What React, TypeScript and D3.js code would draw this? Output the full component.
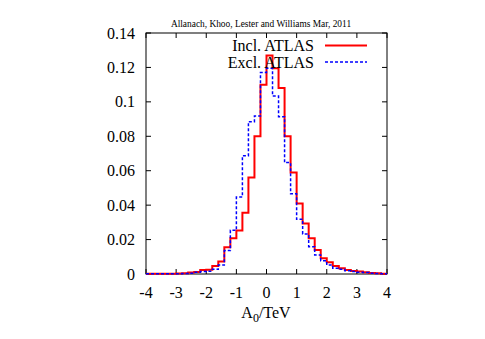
import React from "react";
import * as d3 from "d3";

const binEdges: number[] = [
  -4.0, -3.8, -3.6, -3.4, -3.2, -3.0, -2.8, -2.6, -2.4, -2.2,
  -2.0, -1.8, -1.6, -1.4, -1.2, -1.0, -0.8, -0.6, -0.4, -0.2,
  0.0, 0.2, 0.4, 0.6, 0.8, 1.0, 1.2, 1.4, 1.6, 1.8,
  2.0, 2.2, 2.4, 2.6, 2.8, 3.0, 3.2, 3.4, 3.6, 3.8,
];

const inclAtlas: number[] = [
  0.0001, 0.0001, 0.0001, 0.0002, 0.0002, 0.0003, 0.0004, 0.0008, 0.0012, 0.0023,
  0.0025, 0.0047, 0.0072, 0.0155, 0.0207, 0.0252, 0.0356, 0.056, 0.080, 0.110,
  0.127, 0.1195, 0.108, 0.080, 0.059, 0.041, 0.0294, 0.0207, 0.0139, 0.0091,
  0.0068, 0.0046, 0.0033, 0.0023, 0.0017, 0.0014, 0.001, 0.0006, 0.0004, 0.0002,
];

const exclAtlas: number[] = [
  0.0001, 0.0001, 0.0001, 0.0001, 0.0002, 0.0002, 0.0003, 0.0005, 0.001, 0.0014,
  0.0016, 0.0027, 0.0052, 0.0136, 0.0254, 0.0447, 0.0687, 0.0885, 0.0918, 0.117,
  0.1195, 0.1034, 0.0914, 0.0647, 0.0466, 0.0318, 0.0232, 0.0159, 0.011, 0.0077,
  0.0052, 0.0034, 0.0027, 0.0019, 0.0014, 0.001, 0.0008, 0.0005, 0.0003, 0.0002,
];

const xTicks: number[] = [-4, -3, -2, -1, 0, 1, 2, 3, 4];
const yTicks: number[] = [0, 0.02, 0.04, 0.06, 0.08, 0.1, 0.12, 0.14];
const titleText = "Allanach, Khoo, Lester and Williams Mar, 2011";
const seriesNames = ["Incl. ATLAS", "Excl. ATLAS"];
const binWidth = 0.2;

const W = 485;
const H = 339;
const L = 146, R = 387, T = 33, B = 274;
const FONT = "'Liberation Serif', 'Times New Roman', serif";

export default function App() {
  const x = d3.scaleLinear().domain([-4, 4]).range([L, R]);
  const y = d3.scaleLinear().domain([0, 0.14]).range([B, T]);

  const stepPath = (vals: number[]) => {
    const pts: [number, number][] = binEdges.map((e, i) => [e, vals[i]]);
    pts.push([binEdges[binEdges.length - 1] + binWidth, vals[vals.length - 1]]);
    return d3
      .line<[number, number]>()
      .x((d) => x(d[0]))
      .y((d) => y(d[1]))
      .curve(d3.curveStepAfter)(pts) as string;
  };

  const fmt = (v: number) => (v === 0 ? "0" : String(+v.toFixed(2)));
  const tick = 5;

  return (
    <svg
      width={W}
      height={H}
      style={{ position: "absolute", left: 0, top: 0, background: "#fff" }}
      fontFamily={FONT}
    >
      <rect x={0} y={0} width={W} height={H} fill="#fff" />
      <text x={261} y={26.5} fontSize={9.4} textAnchor="middle" fill="#000">
        {titleText}
      </text>

      {/* ticks */}
      {xTicks.map((t) => (
        <g key={"xt" + t}>
          <line x1={x(t)} x2={x(t)} y1={B} y2={B - tick} stroke="#000" strokeWidth={1} />
          <line x1={x(t)} x2={x(t)} y1={T} y2={T + tick} stroke="#000" strokeWidth={1} />
          <text x={x(t)} y={298} fontSize={16} textAnchor="middle" fill="#000">
            {t}
          </text>
        </g>
      ))}
      {yTicks.map((t) => (
        <g key={"yt" + t}>
          <line x1={L} x2={L + tick} y1={y(t)} y2={y(t)} stroke="#000" strokeWidth={1} />
          <line x1={R} x2={R - tick} y1={y(t)} y2={y(t)} stroke="#000" strokeWidth={1} />
          <text x={135} y={y(t)} dy="0.35em" fontSize={16} textAnchor="end" fill="#000">
            {fmt(t)}
          </text>
        </g>
      ))}

      <rect x={L} y={T} width={R - L} height={B - T} fill="none" stroke="#000" strokeWidth={1} />

      {/* series */}
      <path d={stepPath(inclAtlas)} fill="none" stroke="#ff0000" strokeWidth={2} />
      <path
        d={stepPath(exclAtlas)}
        fill="none"
        stroke="#0000ff"
        strokeWidth={1.5}
        strokeDasharray="3,2"
      />

      {/* legend */}
      <text x={314} y={45.5} dy="0.35em" fontSize={16} textAnchor="end" fill="#000">
        {seriesNames[0]}
      </text>
      <line x1={325} x2={367} y1={45.5} y2={45.5} stroke="#ff0000" strokeWidth={2} />
      <text x={314} y={62} dy="0.35em" fontSize={16} textAnchor="end" fill="#000">
        {seriesNames[1]}
      </text>
      <line
        x1={325}
        x2={367}
        y1={62}
        y2={62}
        stroke="#0000ff"
        strokeWidth={1.5}
        strokeDasharray="3,2"
      />

      {/* axis label */}
      <text x={266} y={318} fontSize={16} textAnchor="middle" fill="#000">
        A<tspan dy={4} fontSize={12}>0</tspan>
        <tspan dy={-4}>/TeV</tspan>
      </text>
    </svg>
  );
}
